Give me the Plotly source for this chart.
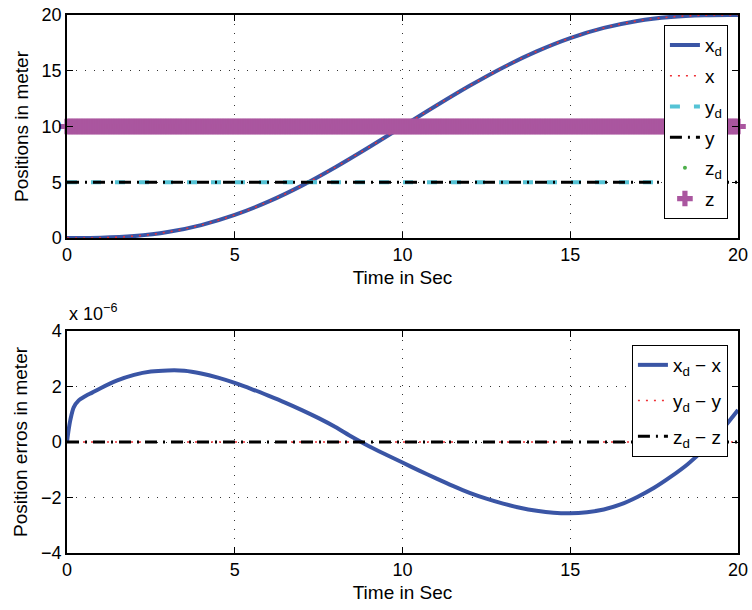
import plotly.graph_objects as go
import numpy as np

# ---------------- data ----------------
t_pos = [0, 1, 2, 3, 4, 5, 6, 7, 8, 9, 10, 11, 12, 13, 14, 15, 16, 17, 18, 19, 20]
x_d = [0.0, 0.02, 0.17, 0.53, 1.16, 2.07, 3.26, 4.70, 6.35, 8.14, 10.0,
       11.86, 13.65, 15.30, 16.74, 17.93, 18.84, 19.47, 19.83, 19.98, 20.0]
x_act = [0.0, 0.02, 0.17, 0.53, 1.16, 2.07, 3.26, 4.70, 6.35, 8.14, 10.0,
         11.86, 13.65, 15.30, 16.74, 17.93, 18.84, 19.47, 19.83, 19.98, 20.0]
y_d_val = 5.0
y_act_val = 5.0
z_d_val = 10.0
z_act_val = 10.0

t_dense = np.round(np.arange(0, 20.0001, 0.05), 3)
y_d = [y_d_val] * len(t_dense)
y_act = [y_act_val] * len(t_dense)
z_d = [z_d_val] * len(t_dense)
z_act = [z_act_val] * len(t_dense)

# errors in units of 1e-6 m
t_err = [0, 0.05, 0.1, 0.2, 0.35, 0.5, 0.75, 1.0, 1.5, 2.0, 2.5, 3.0, 3.5, 4.0,
         4.5, 5.0, 5.5, 6.0, 6.5, 7.0, 7.5, 8.0, 8.5, 9.0, 9.5, 10.0, 10.5, 11.0,
         11.5, 12.0, 12.5, 13.0, 13.5, 14.0, 14.5, 15.0, 15.5, 16.0, 16.5, 17.0,
         17.5, 18.0, 18.5, 19.0, 19.5, 20.0]
ex_err = [0.0, 0.45, 0.8, 1.25, 1.5, 1.62, 1.78, 1.94, 2.22, 2.42, 2.54, 2.58, 2.57,
          2.47, 2.32, 2.13, 1.91, 1.67, 1.42, 1.15, 0.86, 0.54, 0.18, -0.15, -0.45,
          -0.74, -1.03, -1.31, -1.58, -1.83, -2.04, -2.22, -2.37, -2.48, -2.55,
          -2.57, -2.53, -2.43, -2.25, -1.98, -1.65, -1.25, -0.80, -0.25, 0.40, 1.15]
ey_err = [0.0] * len(t_dense)
ez_err = [0.0] * len(t_dense)

x_ticks = [0, 5, 10, 15, 20]
y1_ticks = [0, 5, 10, 15, 20]
y2_ticks = [-4, -2, 0, 2, 4]

BLUE = "#3a55a5"
RED = "#ee3136"
CYAN = "#55c3d5"
BLACK = "#000000"
GREEN = "#4daf4a"
MAGENTA = "#aa569f"
FONT = "Liberation Sans"

fig = go.Figure()

# top subplot
fig.add_trace(go.Scatter(x=t_pos, y=x_d, mode="lines", name="x<sub>d</sub>",
                         line=dict(color=BLUE, width=4, shape="spline"),
                         xaxis="x", yaxis="y", legend="legend", legendgroup="a"))
fig.add_trace(go.Scatter(x=t_pos, y=x_act, mode="lines", name="x",
                         line=dict(color=RED, width=1.5, dash="2px,6px", shape="spline"),
                         xaxis="x", yaxis="y", legend="legend", legendgroup="b"))
fig.add_trace(go.Scatter(x=t_dense, y=y_d, mode="lines", name="y<sub>d</sub>",
                         line=dict(color=CYAN, width=4, dash="10px,14px"),
                         xaxis="x", yaxis="y", legend="legend", legendgroup="c"))
fig.add_trace(go.Scatter(x=t_dense, y=y_act, mode="lines", name="y",
                         line=dict(color=BLACK, width=3, dash="12px,6px,2px,6px"),
                         xaxis="x", yaxis="y", legend="legend", legendgroup="d"))
fig.add_trace(go.Scatter(x=t_dense, y=z_d, mode="markers", name="z<sub>d</sub>",
                         marker=dict(color=GREEN, size=4),
                         xaxis="x", yaxis="y", legend="legend", legendgroup="e"))
fig.add_trace(go.Scatter(x=t_dense, y=z_act, mode="markers", name="z",
                         marker=dict(color=MAGENTA, size=13, symbol="cross", line=dict(width=0)),
                         cliponaxis=False,
                         xaxis="x", yaxis="y", legend="legend", legendgroup="f"))

# bottom subplot
fig.add_trace(go.Scatter(x=t_err, y=ex_err, mode="lines", name="x<sub>d</sub> − x",
                         line=dict(color=BLUE, width=4, shape="spline", smoothing=0.8),
                         xaxis="x2", yaxis="y2", legend="legend2", legendgroup="g"))
fig.add_trace(go.Scatter(x=t_dense, y=ey_err, mode="lines", name="y<sub>d</sub> − y",
                         line=dict(color=RED, width=1.5, dash="2px,6px"),
                         xaxis="x2", yaxis="y2", legend="legend2", legendgroup="h"))
fig.add_trace(go.Scatter(x=t_dense, y=ez_err, mode="lines", name="z<sub>d</sub> − z",
                         line=dict(color=BLACK, width=3, dash="12px,6px,2px,6px"),
                         xaxis="x2", yaxis="y2", legend="legend2", legendgroup="i"))

axis_common = dict(showline=True, linecolor="black", linewidth=1.5, mirror="ticks",
                   ticks="inside", ticklen=6, tickcolor="black", automargin=False,
                   showgrid=True, gridcolor="#333333", griddash="1px,8px", gridwidth=1,
                   zeroline=False, tickfont=dict(size=18, color="black", family=FONT),
                   title_font=dict(size=19, color="black", family=FONT))

top_dom = [0.5855, 1.0]
bot_dom = [0.0, 0.4126]

legend_common = dict(xanchor="right", yanchor="top", bgcolor="white",
                     bordercolor="black", borderwidth=1,
                     font=dict(size=19, family=FONT, color="black"))

fig.update_layout(
    width=752, height=610,
    margin=dict(l=67, r=14, t=15, b=57),
    paper_bgcolor="white", plot_bgcolor="white",
    font=dict(family=FONT, color="black"),
    xaxis=dict(axis_common, domain=[0, 1], range=[0, 20], tickvals=x_ticks,
               anchor="y", title=dict(text="Time in Sec", standoff=6)),
    yaxis=dict(axis_common, domain=top_dom, range=[0, 20], tickvals=y1_ticks,
               anchor="x", title=dict(text="Positions in meter", standoff=8)),
    xaxis2=dict(axis_common, domain=[0, 1], range=[0, 20], tickvals=x_ticks,
                anchor="y2", title=dict(text="Time in Sec", standoff=6)),
    yaxis2=dict(axis_common, domain=bot_dom, range=[-4, 4], tickvals=y2_ticks,
                anchor="x2", title=dict(text="Position erros in meter", standoff=8)),
    legend=dict(legend_common, x=0.985, y=0.981, tracegroupgap=3),
    legend2=dict(legend_common, x=0.985, y=0.3866, tracegroupgap=8),
    showlegend=True,
    annotations=[dict(text="x 10<sup>−6</sup>", x=0, y=0.422, xref="paper", yref="paper",
                      xanchor="left", yanchor="bottom", showarrow=False,
                      font=dict(size=18, family=FONT, color="black"))],
)

fig.write_html("out.html")
